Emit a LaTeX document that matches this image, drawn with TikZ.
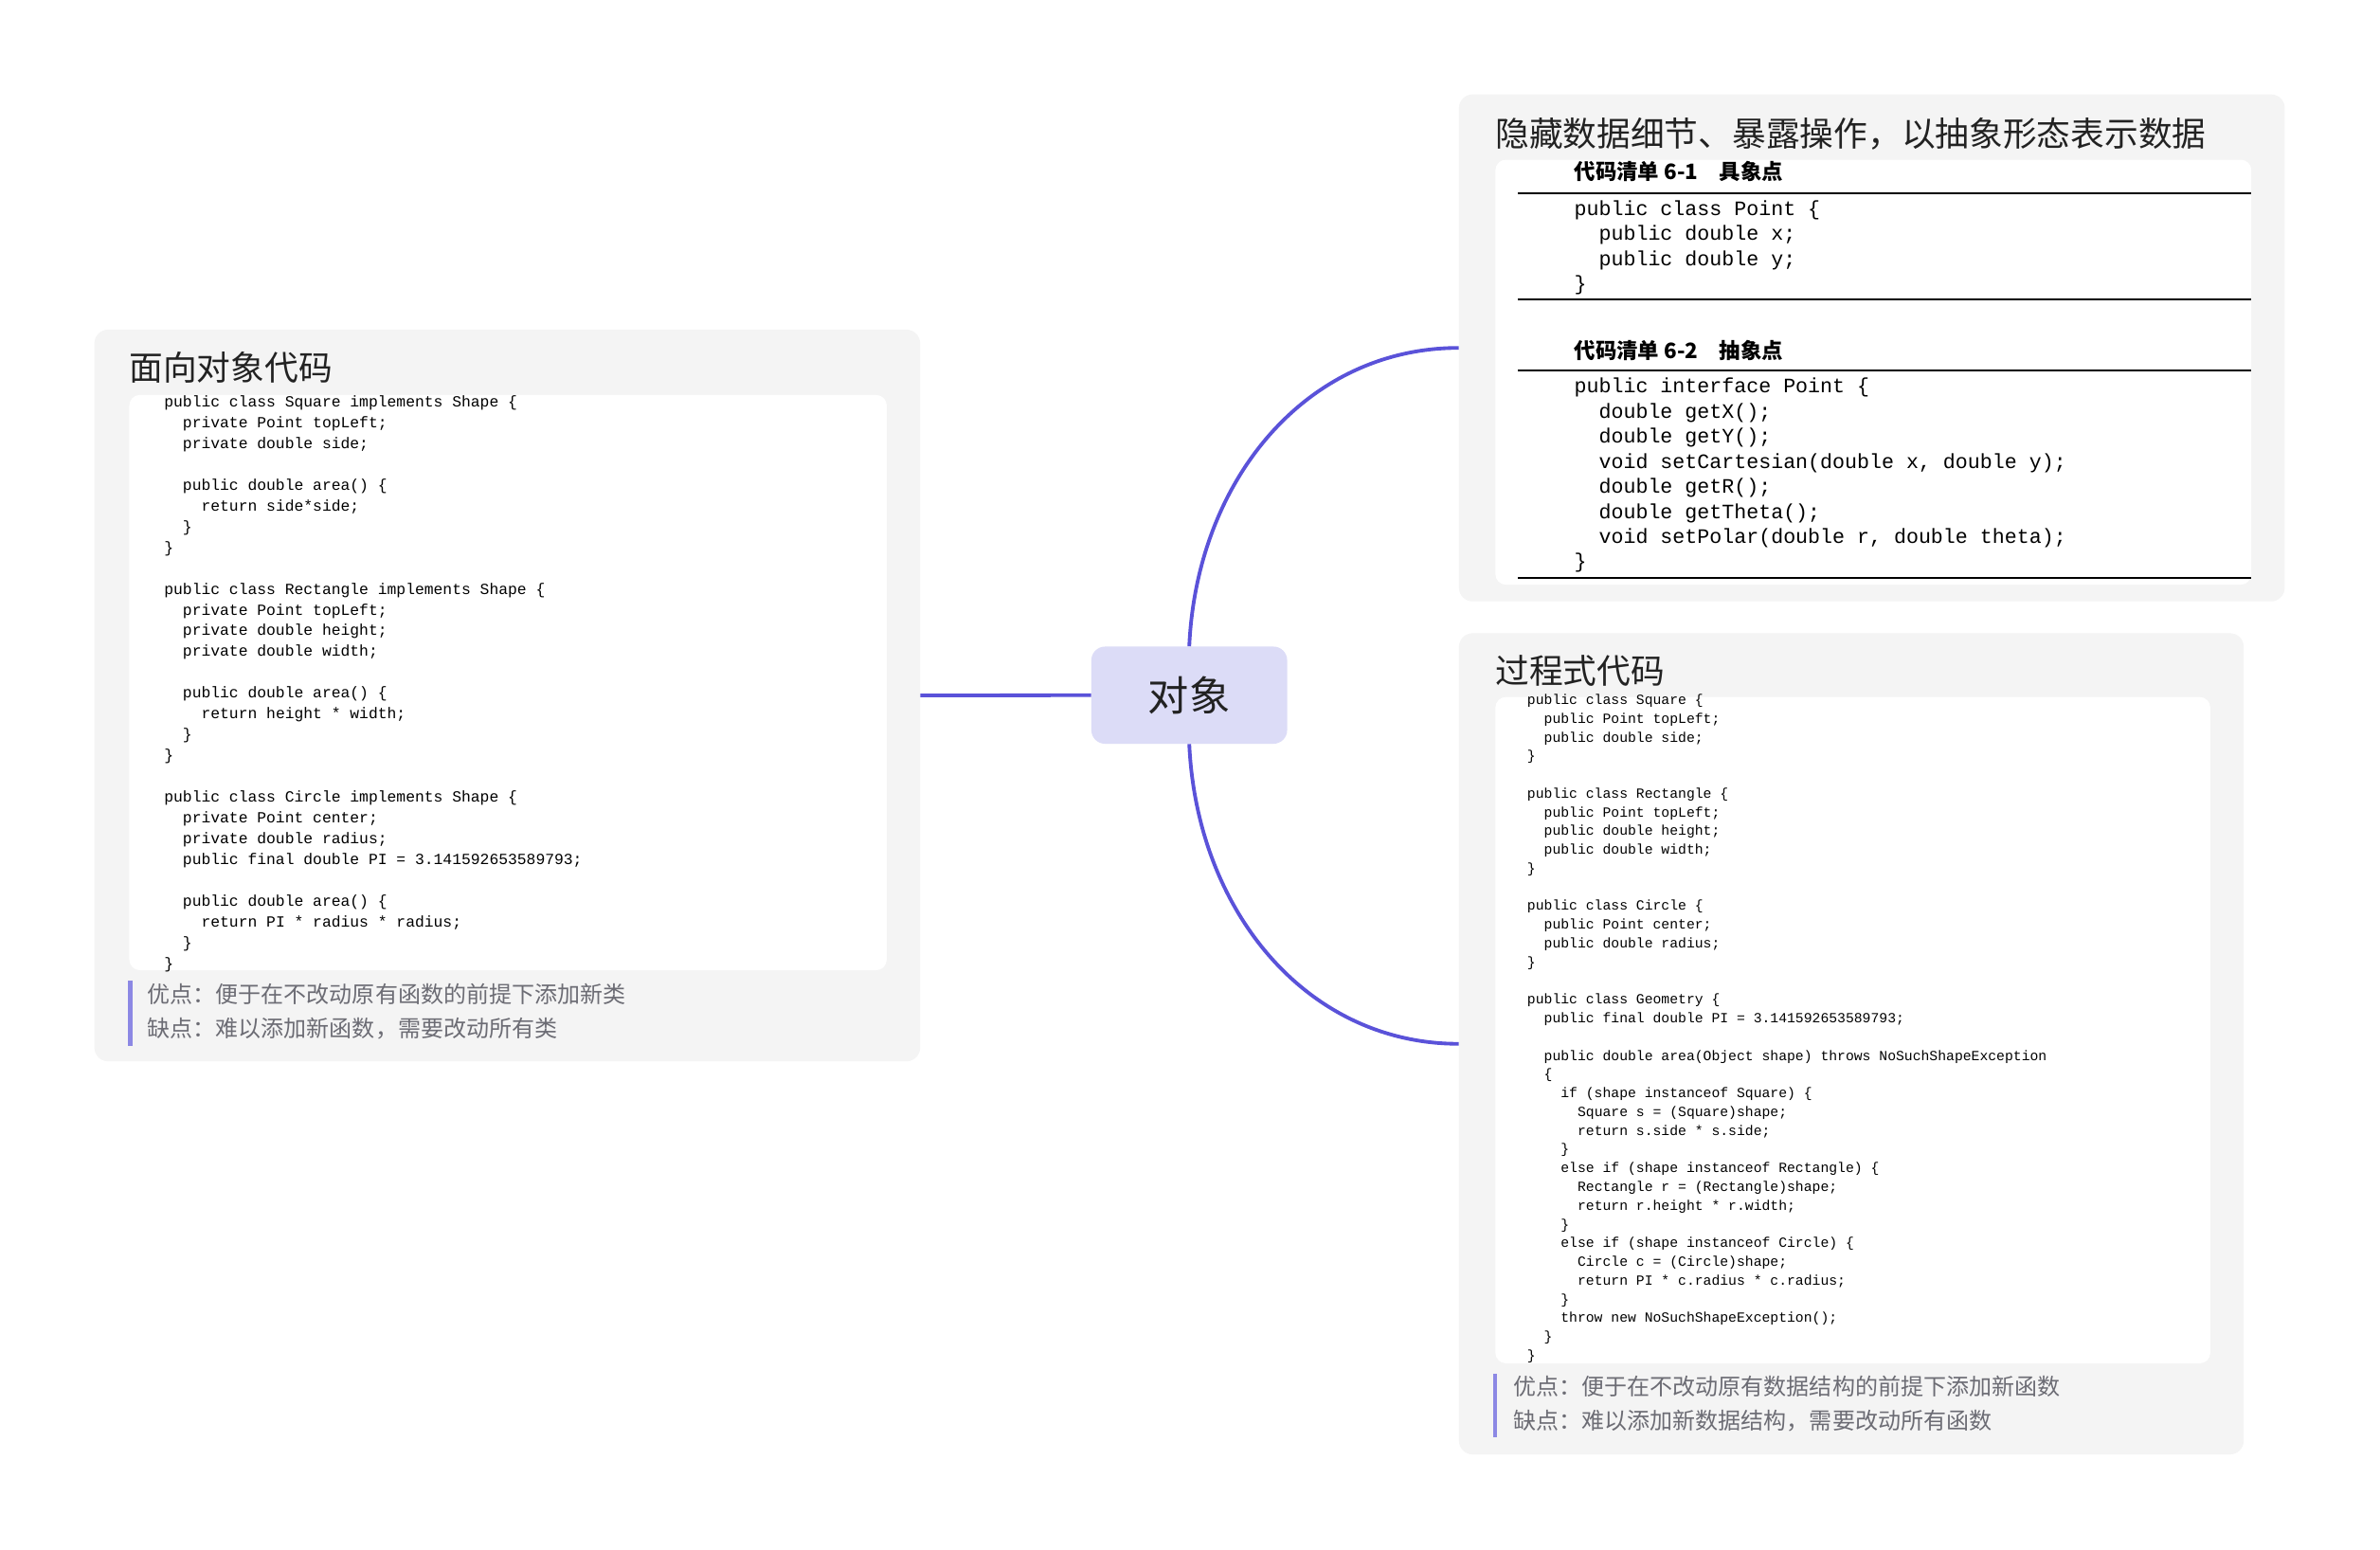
\documentclass[tikz,border=0pt]{standalone}
\usepackage{fontspec}
\setmonofont{Liberation Mono}
\newfontfamily\cjk{Noto Sans CJK SC}

\definecolor{panelgray}{HTML}{F4F4F4}
\definecolor{linkblue}{HTML}{5A52D9}
\definecolor{rootfill}{HTML}{DCDCF7}
\definecolor{notebar}{HTML}{8C88E4}
\definecolor{notegray}{HTML}{6C6C74}
\definecolor{inkgray}{HTML}{222222}

\tikzset{
	panel/.style={fill=panelgray, rounded corners=9pt, inner sep=0pt, anchor=north west},
	codebox/.style={fill=white, rounded corners=7pt, inner sep=0pt, anchor=north west},
	heading/.style={font=\cjk\fontsize{22.3}{26}\selectfont, text=inkgray, anchor=west, inner sep=0pt},
	listing/.style={font=\cjk\bfseries\fontsize{14}{16}\selectfont, anchor=west, inner sep=0pt},
	root/.style={fill=rootfill, rounded corners=9pt, minimum width=129pt, minimum height=64pt,
		font=\cjk\fontsize{27}{30}\selectfont, text=inkgray},
	link/.style={draw=linkblue, line width=2.4pt},
	note/.style={font=\cjk\fontsize{15}{22.5}\selectfont, text=notegray, align=left, anchor=base west, inner sep=0pt},
	notebarline/.style={draw=notebar, line width=3pt},
	rule/.style={line width=1.3pt},
	code/.style={align=left, anchor=base west, inner sep=0pt}
}

\begin{document}
\begin{tikzpicture}[x=1pt, y=-1pt]
	\fill[white] (0,0) rectangle (1568,1021);
	\useasboundingbox (0,0) rectangle (1568,1021);

	% panels
	\node[panel, minimum width=544pt, minimum height=482pt] (oop) at (62,217) {};
	\node[panel, minimum width=544pt, minimum height=334pt] (hide) at (961,62) {};
	\node[panel, minimum width=517pt, minimum height=541pt] (proc) at (961,417) {};

	\node[codebox, minimum width=499pt, minimum height=379pt] (oobox) at (85,260) {};
	\node[codebox, minimum width=498pt, minimum height=280pt] (hidebox) at (985,105) {};
	\node[codebox, minimum width=471pt, minimum height=439pt] (procbox) at (985,459) {};

	\node[heading] (ootitle) at (85,242) {面向对象代码};
	\node[heading] (hidetitle) at (985,88) {隐藏数据细节、暴露操作，以抽象形态表示数据};
	\node[heading] (proctitle) at (985,442) {过程式代码};

	% root
	\node[root] (obj) at (783.5,458) {对象};

	\draw[link] (oop.east) -- (obj.west);
	\draw[link] (obj.north) .. controls +(5,-110) and +(-100,0) .. (hide.west);
	\draw[link] (obj.south) .. controls +(5,110) and +(-100,0) .. (proc.west);

	% object oriented code (base = last line)
	\node[code, font=\ttfamily\fontsize{10.2}{13.7}\selectfont] (oocode) at (108,638) {
		public class Square implements Shape \{\\
		~~private Point topLeft;\\
		~~private double side;\\
		~\\
		~~public double area() \{\\
		~~~~return side*side;\\
		~~\}\\
		\}\\
		~\\
		public class Rectangle implements Shape \{\\
		~~private Point topLeft;\\
		~~private double height;\\
		~~private double width;\\
		~\\
		~~public double area() \{\\
		~~~~return height * width;\\
		~~\}\\
		\}\\
		~\\
		public class Circle implements Shape \{\\
		~~private Point center;\\
		~~private double radius;\\
		~~public final double PI = 3.141592653589793;\\
		~\\
		~~public double area() \{\\
		~~~~return PI * radius * radius;\\
		~~\}\\
		\}};
	\draw[notebarline] (86,646) -- (86,689);
	\node[note] (oonote) at (97,683) {优点：便于在不改动原有函数的前提下添加新类\\缺点：难以添加新函数，需要改动所有类};

	% data abstraction listings
	\node[listing] (list1) at (1037,113) {代码清单 6-1\hspace{1em}具象点};
	\draw[rule] (1000,127.5) -- (1483,127.5);
	\node[code, font=\ttfamily\fontsize{13.5}{16.5}\selectfont] (point1) at (1037,191.5) {
		public class Point \{\\
		~~public double x;\\
		~~public double y;\\
		\}};
	\draw[rule] (1000,197.5) -- (1483,197.5);
	\node[listing] (list2) at (1037,231) {代码清单 6-2\hspace{1em}抽象点};
	\draw[rule] (1000,244) -- (1483,244);
	\node[code, font=\ttfamily\fontsize{13.5}{16.5}\selectfont] (point2) at (1037,374.5) {
		public interface Point \{\\
		~~double getX();\\
		~~double getY();\\
		~~void setCartesian(double x, double y);\\
		~~double getR();\\
		~~double getTheta();\\
		~~void setPolar(double r, double theta);\\
		\}};
	\draw[rule] (1000,380.5) -- (1483,380.5);

	% procedural code
	\node[code, font=\ttfamily\fontsize{9.2}{12.34}\selectfont] (proccode) at (1006,896) {
		public class Square \{\\
		~~public Point topLeft;\\
		~~public double side;\\
		\}\\
		~\\
		public class Rectangle \{\\
		~~public Point topLeft;\\
		~~public double height;\\
		~~public double width;\\
		\}\\
		~\\
		public class Circle \{\\
		~~public Point center;\\
		~~public double radius;\\
		\}\\
		~\\
		public class Geometry \{\\
		~~public final double PI = 3.141592653589793;\\
		~\\
		~~public double area(Object shape) throws NoSuchShapeException\\
		~~\{\\
		~~~~if (shape instanceof Square) \{\\
		~~~~~~Square s = (Square)shape;\\
		~~~~~~return s.side * s.side;\\
		~~~~\}\\
		~~~~else if (shape instanceof Rectangle) \{\\
		~~~~~~Rectangle r = (Rectangle)shape;\\
		~~~~~~return r.height * r.width;\\
		~~~~\}\\
		~~~~else if (shape instanceof Circle) \{\\
		~~~~~~Circle c = (Circle)shape;\\
		~~~~~~return PI * c.radius * c.radius;\\
		~~~~\}\\
		~~~~throw new NoSuchShapeException();\\
		~~\}\\
		\}};
	\draw[notebarline] (985,905) -- (985,947);
	\node[note] (procnote) at (997,941.5) {优点：便于在不改动原有数据结构的前提下添加新函数\\缺点：难以添加新数据结构，需要改动所有函数};
\end{tikzpicture}
\end{document}
